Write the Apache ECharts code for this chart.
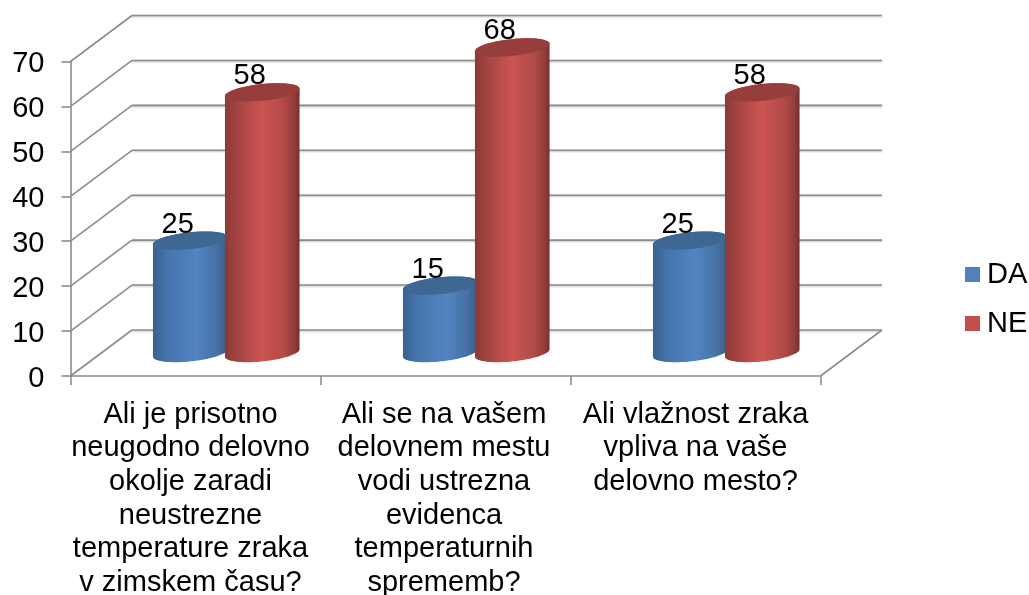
<!DOCTYPE html>
<html>
<head>
<meta charset="utf-8">
<style>
  html, body { margin: 0; padding: 0; background: #fff; }
  #chart { width: 1029px; height: 595px; }
</style>
<script src="https://cdn.jsdelivr.net/npm/echarts@6/dist/echarts.min.js"></script>
</head>
<body>
<div id="chart"></div>
<script>
const categories = [
  'Ali je prisotno\nneugodno delovno\nokolje zaradi\nneustrezne\ntemperature zraka\nv zimskem času?',
  'Ali se na vašem\ndelovnem mestu\nvodi ustrezna\nevidenca\ntemperaturnih\nsprememb?',
  'Ali vlažnost zraka\nvpliva na vaše\ndelovno mesto?'
]
const daValues = [25, 15, 25]
const neValues = [58, 68, 58]
const yTicks = [0, 10, 20, 30, 40, 50, 60, 70]

const FONT = '"Liberation Sans", Arial, sans-serif'
const AXIS_COLOR = '#8c8c8c'
// how far the back wall sits from the front plane, in pixels
const DEPTH_X = 61.5
const DEPTH_Y = -46
const TILT = -6 * Math.PI / 180

function ellipsePoints(cx, cy, rx, ry, from, to) {
  const pts = []
  const steps = 36
  for (let i = 0; i <= steps; i++) {
    const t = from + (to - from) * i / steps
    pts.push([
      cx + rx * Math.cos(t) * Math.cos(TILT) - ry * Math.sin(t) * Math.sin(TILT),
      cy + rx * Math.cos(t) * Math.sin(TILT) + ry * Math.sin(t) * Math.cos(TILT)
    ])
  }
  return pts
}

function cylinder(side, stops, topColor) {
  return (params, api) => {
    const cat = api.value(0)
    const val = api.value(1)
    const band = api.size([1, 0])[0]
    const rx = band * 0.15
    const ry = 8.4
    const cx = api.coord([cat, 0])[0] + DEPTH_X / 2 + side * band * 0.144
    const topY = api.coord([cat, val])[1] + DEPTH_Y / 2
    const botY = api.coord([cat, 0])[1] + DEPTH_Y / 2
    const top = ellipsePoints(cx, topY, rx, ry, 0, Math.PI * 2)
    const bodyBottom = ellipsePoints(cx, botY, rx, ry, 0, Math.PI)
    const bodyTop = ellipsePoints(cx, topY, rx, ry, Math.PI, Math.PI * 2)
    return {
      type: 'group',
      children: [
        {
          type: 'polygon',
          shape: { points: bodyBottom.concat(bodyTop) },
          style: { fill: new echarts.graphic.LinearGradient(0, 0, 1, 0, stops) }
        },
        {
          type: 'polygon',
          shape: { points: top },
          style: { fill: topColor }
        },
        {
          type: 'text',
          style: {
            text: String(val),
            x: cx - 12.5,
            y: topY - 16,
            align: 'center',
            verticalAlign: 'middle',
            font: '29px ' + FONT,
            fill: '#000'
          }
        }
      ]
    }
  }
}

function renderWall(params, api) {
  const cs = params.coordSys
  const y = api.coord([0, api.value(1)])[1]
  const left = cs.x
  const right = cs.x + cs.width
  const children = [
    {
      type: 'line',
      shape: { x1: left, y1: y, x2: left + DEPTH_X, y2: y + DEPTH_Y },
      style: { stroke: AXIS_COLOR, lineWidth: 1.6 }
    },
    {
      type: 'line',
      shape: { x1: left + DEPTH_X, y1: y + DEPTH_Y, x2: right + DEPTH_X, y2: y + DEPTH_Y },
      style: {
        stroke: AXIS_COLOR,
        lineWidth: 1.6,
        shadowColor: 'rgba(0,0,0,0.25)',
        shadowBlur: 2,
        shadowOffsetY: 1
      }
    }
  ]
  if (api.value(1) === 0) {
    children.push({
      type: 'line',
      shape: { x1: right, y1: y, x2: right + DEPTH_X, y2: y + DEPTH_Y },
      style: { stroke: AXIS_COLOR, lineWidth: 1.6 }
    })
  }
  return { type: 'group', children }
}

// the three captions do not sit quite centred under their ticks
const captionStyle = rightPad => ({
  color: '#000',
  fontFamily: FONT,
  fontSize: 29,
  lineHeight: 33.6,
  padding: [0, rightPad, 0, 0]
})

const myChart = echarts.init(document.getElementById('chart'), null, { renderer: 'canvas' })

myChart.setOption({
  animation: false,
  backgroundColor: '#fff',
  grid: { left: 70.5, right: 208.5, top: 61.5, bottom: 219, outerBoundsMode: 'none' },
  xAxis: {
    type: 'category',
    data: categories,
    axisLine: { lineStyle: { color: AXIS_COLOR, width: 1.6 } },
    axisTick: { show: true, alignWithLabel: false, length: 9, lineStyle: { color: AXIS_COLOR, width: 1.6 } },
    axisLabel: {
      interval: 0,
      margin: 22,
      lineHeight: 33.6,
      formatter: (value, index) => value.split('\n').map(line => `{c${index}|${line}}`).join('\n'),
      rich: {
        c0: captionStyle(10),
        c1: captionStyle(3),
        c2: captionStyle(0)
      }
    }
  },
  yAxis: {
    type: 'value',
    min: 0,
    max: 70,
    interval: 10,
    splitLine: { show: false },
    axisLine: { show: true, lineStyle: { color: AXIS_COLOR, width: 1.6 } },
    axisTick: { show: true, length: 9, lineStyle: { color: AXIS_COLOR, width: 1.6 } },
    axisLabel: {
      margin: 26,
      formatter: '{v|{value}}',
      rich: { v: { color: '#000', fontFamily: FONT, fontSize: 29, padding: [5, 0, 0, 0] } }
    }
  },
  legend: {
    orient: 'vertical',
    left: 965,
    top: 260,
    icon: 'rect',
    itemWidth: 15,
    itemHeight: 15,
    itemGap: 20,
    padding: 0,
    data: ['DA', 'NE'],
    textStyle: { color: '#000', fontFamily: FONT, fontSize: 29, padding: [0, 0, 0, 2] }
  },
  series: [
    {
      name: 'walls',
      type: 'custom',
      silent: true,
      clip: false,
      renderItem: renderWall,
      data: yTicks.map(v => [0, v])
    },
    {
      name: 'DA',
      type: 'custom',
      clip: false,
      itemStyle: { color: '#4f81bd' },
      renderItem: cylinder(-1, [
        { offset: 0, color: '#39608f' },
        { offset: 0.2, color: '#4675ad' },
        { offset: 0.58, color: '#5184c2' },
        { offset: 0.85, color: '#4672a5' },
        { offset: 1, color: '#3a5d88' }
      ], '#3f6794'),
      data: daValues.map((v, i) => [i, v])
    },
    {
      name: 'NE',
      type: 'custom',
      clip: false,
      itemStyle: { color: '#c0504d' },
      renderItem: cylinder(1, [
        { offset: 0, color: '#8a3a38' },
        { offset: 0.2, color: '#a84644' },
        { offset: 0.5, color: '#cc5552' },
        { offset: 0.8, color: '#b04a47' },
        { offset: 0.93, color: '#943d3b' },
        { offset: 1, color: '#723030' }
      ], '#953e3b'),
      data: neValues.map((v, i) => [i, v])
    }
  ]
})
</script>
</body>
</html>
